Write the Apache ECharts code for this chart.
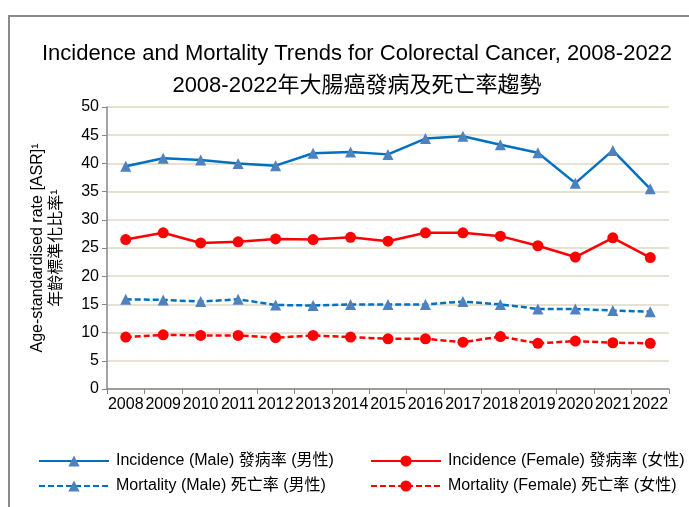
<!DOCTYPE html>
<html>
<head>
<meta charset="utf-8">
<script src="https://cdn.jsdelivr.net/npm/echarts@6/dist/echarts.min.js"></script>
<style>
  html, body { margin: 0; padding: 0; background: #fff; }
  #main { width: 689px; height: 507px; }
</style>
</head>
<body>
<div id="main"></div>
<script>
// data
var years = ['2008','2009','2010','2011','2012','2013','2014','2015','2016','2017','2018','2019','2020','2021','2022'];
var incMale =   [39.5, 40.9, 40.6, 40.0, 39.6, 41.8, 42.0, 41.6, 44.4, 44.8, 43.3, 41.9, 36.5, 42.3, 35.5];
var incFemale = [26.5, 27.7, 25.9, 26.1, 26.6, 26.5, 26.9, 26.2, 27.7, 27.7, 27.1, 25.4, 23.4, 26.8, 23.3];
var morMale =   [15.9, 15.8, 15.5, 15.9, 14.9, 14.8, 15.0, 15.0, 15.0, 15.5, 15.0, 14.2, 14.2, 13.9, 13.7];
var morFemale = [9.2, 9.6, 9.5, 9.5, 9.1, 9.5, 9.2, 8.9, 8.9, 8.3, 9.3, 8.1, 8.5, 8.2, 8.1];
var seriesNames = [
    'Incidence (Male) 發病率 (男性)',
    'Incidence (Female) 發病率 (女性)',
    'Mortality (Male) 死亡率 (男性)',
    'Mortality (Female) 死亡率 (女性)'
];

var font = "'Liberation Sans', Arial, 'Noto Sans CJK TC', sans-serif";
var myChart = echarts.init(document.getElementById('main'));

function lineSeries(name, data, color, markColor, symbol, size, dashed) {
    return {
        name: name,
        type: 'line',
        data: data,
        symbol: symbol,
        symbolSize: size,
        showAllSymbol: true,
        lineStyle: { color: color, width: 2.5, type: dashed ? [6, 3] : 'solid' },
        itemStyle: { color: markColor },
        emphasis: { disabled: true }
    };
}

var legendBase = {
    orient: 'vertical',
    top: 448,
    itemWidth: 70,
    itemHeight: 14,
    itemGap: 9,
    textStyle: { fontFamily: font, fontSize: 16, color: '#000', padding: [0, 0, 0, 2] }
};

var option = {
    animation: false,
    textStyle: { fontFamily: font },
    graphic: [{
        type: 'rect',
        shape: { x: 9, y: 16, width: 760, height: 560 },
        style: { fill: 'none', stroke: '#8a8a8a', lineWidth: 2 },
        silent: true
    }],
    title: {
        text: 'Incidence and Mortality Trends for Colorectal Cancer, 2008-2022\n2008-2022年大腸癌發病及死亡率趨勢',
        left: 352,
        textAlign: 'center',
        top: 33,
        textStyle: { fontFamily: font, fontSize: 22, fontWeight: 'normal', color: '#000', lineHeight: 32 }
    },
    legend: [
        Object.assign({}, legendBase, { data: [seriesNames[0], seriesNames[2]], left: 33 }),
        Object.assign({}, legendBase, { data: [seriesNames[1], seriesNames[3]], left: 365 })
    ],
    grid: { left: 107, top: 107, right: 20, bottom: 118, containLabel: false },
    xAxis: {
        type: 'category',
        data: years,
        boundaryGap: true,
        axisLine: { lineStyle: { color: '#868686', width: 1.5 } },
        axisTick: { show: true, length: 5, lineStyle: { color: '#868686' } },
        axisLabel: { color: '#000', fontSize: 16, margin: 8, interval: 0, fontFamily: font }
    },
    yAxis: {
        type: 'value',
        min: 0,
        max: 50,
        interval: 5,
        name: 'Age-standardised rate [ASR]¹\n年齡標準化比率¹',
        nameLocation: 'middle',
        nameRotate: 90,
        nameGap: 41,
        nameTextStyle: { fontFamily: font, fontSize: 16, color: '#000', lineHeight: 19 },
        axisLine: { show: true, lineStyle: { color: '#868686', width: 1.5 } },
        axisTick: { show: true, length: 5, inside: false, lineStyle: { color: '#868686' } },
        axisLabel: { color: '#000', fontSize: 16, margin: 8, fontFamily: font },
        splitLine: { lineStyle: { color: '#ddd9c3', width: 1.5 } }
    },
    series: [
        lineSeries(seriesNames[0], incMale, '#0070c0', '#4f81bd', 'triangle', 11, false),
        lineSeries(seriesNames[1], incFemale, '#ff0000', '#ff0000', 'circle', 11, false),
        lineSeries(seriesNames[2], morMale, '#0070c0', '#4f81bd', 'triangle', 11, true),
        lineSeries(seriesNames[3], morFemale, '#ff0000', '#ff0000', 'circle', 11, true)
    ]
};

myChart.setOption(option);
window.addEventListener('resize', function () {
    myChart.resize();
});
</script>
</body>
</html>
